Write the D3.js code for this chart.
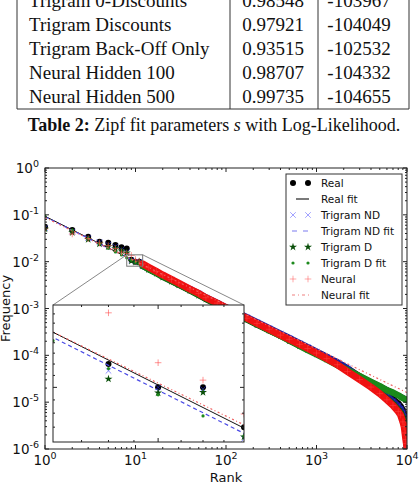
<!DOCTYPE html>
<html>
<head>
<meta charset="utf-8">
<script src="https://cdn.jsdelivr.net/npm/d3@7"></script>
<style>
  body { margin: 0; background: #fff; }
  svg { display: block; }
</style>
</head>
<body>
<svg id="chart" width="420" height="482"></svg>
<script>
// table rows (top part of the page)
const tableNames = ['Trigram 0-Discounts', 'Trigram Discounts', 'Trigram Back-Off Only', 'Neural Hidden 100', 'Neural Hidden 500'];
const tableS = ['0.98548', '0.97921', '0.93515', '0.98707', '0.99735'];
const tableLL = ['-103967', '-104049', '-102532', '-104332', '-104655'];

// ranks
const ranks = [1, 2, 3, 4, 5, 6, 7, 8, 9, 10, 11, 12, 14, 17, 20, 25, 30, 40, 50, 60, 80, 100, 130, 170, 220, 300, 400, 500, 650, 800,
  1000, 1300, 1700, 2200, 3000, 4000, 5000, 6000, 7000, 8000, 8500, 9000, 9300, 9500, 9700, 9850, 9950, 10000];

const real = [0.0557, 0.0473, 0.0341, 0.0267, 0.0254, 0.0226, 0.0202, 0.0192, 0.0110, 0.0100, 0.0100, 0.0085, 0.0071, 0.0059, 0.0050, 0.0040, 0.0033, 0.0025, 0.0020, 0.00165,
  0.00125, 0.00100, 0.00078, 0.00060, 0.00047, 0.00035, 0.00027, 0.00022, 0.00017, 0.000142, 0.000115, 0.000089, 0.000069, 0.000051, 0.000035, 0.000025, 0.0000185, 0.0000145,
  0.0000115, 0.0000092, 0.0000080, 0.0000066, 0.0000055, 0.0000046, 0.0000034, 0.0000024, 0.0000018, 0.0000015];

const trigramND = [0.052, 0.044, 0.032, 0.026, 0.023, 0.021, 0.018, 0.016, 0.0107, 0.0100, 0.00993, 0.0081, 0.0072, 0.0060, 0.0051, 0.0041, 0.0034, 0.0026, 0.0021, 0.00172,
  0.00131, 0.00106, 0.00083, 0.00065, 0.00051, 0.00038, 0.00029, 0.000235, 0.000182, 0.000150, 0.000120, 0.000093, 0.000071, 0.000053, 0.000034, 0.000024, 0.0000175, 0.0000135,
  0.0000105, 0.0000083, 0.0000072, 0.0000058, 0.0000048, 0.0000039, 0.0000029, 0.0000020, 0.0000013, 0.0000010];

const trigramD = [0.050, 0.042, 0.030, 0.024, 0.021, 0.019, 0.017, 0.0155, 0.01035, 0.00978, 0.0098, 0.00817, 0.0068, 0.0056, 0.0047, 0.0038, 0.0032, 0.0024, 0.0019, 0.00158,
  0.0012, 0.00097, 0.00075, 0.00058, 0.00045, 0.00034, 0.00026, 0.000205, 0.00016, 0.000132, 0.000106, 0.000083, 0.000063, 0.000047, 0.000032, 0.000022, 0.0000160, 0.0000120,
  0.0000092, 0.0000070, 0.0000060, 0.0000048, 0.0000040, 0.0000032, 0.0000024, 0.0000017, 0.0000013, 0.0000011];

const trigramDFit = [0.0935, 0.0474, 0.0318, 0.0240, 0.0193, 0.0161, 0.0139, 0.0121, 0.0108, 0.0097, 0.0089, 0.0082, 0.0070, 0.0058, 0.0049, 0.0040, 0.0033, 0.0025, 0.0020, 0.00168,
  0.00126, 0.00101, 0.00078, 0.00060, 0.00047, 0.00034, 0.00026, 0.00021, 0.00016, 0.00013, 0.000105, 0.000081, 0.000062, 0.000048, 0.000036, 0.000027, 0.000022, 0.000018,
  0.000016, 0.000014, 0.000013, 0.0000122, 0.0000118, 0.0000116, 0.0000113, 0.0000112, 0.0000111, 0.000011];

const neural = [0.050, 0.039, 0.031, 0.025, 0.022, 0.019, 0.016, 0.0150, 0.01356, 0.01106, 0.0103, 0.00897, 0.0076, 0.0062, 0.0052, 0.0042, 0.0035, 0.0026, 0.0021, 0.0017,
  0.0013, 0.00104, 0.00080, 0.00062, 0.00048, 0.00036, 0.00027, 0.00022, 0.000172, 0.000140, 0.000112, 0.000085, 0.000063, 0.000045, 0.0000305, 0.0000210, 0.0000152, 0.0000112,
  0.0000085, 0.0000063, 0.0000053, 0.0000038, 0.0000030, 0.0000022, 0.0000016, 0.0000013, 0.0000011, 0.0000010];

// fit lines, end points at rank 1 and rank 10^4
const fitRanks = [1, 10000];
const realFit = [0.0933, 0.0000128];
const trigramNDFit = [0.0914, 0.0000125];
const neuralFit = [0.0875, 0.0000160];

const xTickExp = [0, 1, 2, 3, 4];
const yTickExp = [0, -1, -2, -3, -4, -5, -6];
const legendLabels = ['Real', 'Real fit', 'Trigram ND', 'Trigram ND fit', 'Trigram D', 'Trigram D fit', 'Neural', 'Neural fit'];

const svg = d3.select('#chart');
const serif = '"Liberation Serif", "Times New Roman", serif';
const sans = '"DejaVu Sans", sans-serif';

// ---- table fragment + caption
const tab = svg.append('g').attr('font-family', serif).attr('font-size', 19).attr('fill', '#111');
tableNames.forEach((name, i) => {
  const by = 7 + i * 24;
  tab.append('text').attr('x', 29).attr('y', by).text(name);
  tab.append('text').attr('x', 273).attr('y', by).attr('text-anchor', 'middle').text(tableS[i]);
  tab.append('text').attr('x', 359).attr('y', by).attr('text-anchor', 'middle').text(tableLL[i]);
});
[17, 230, 318, 409].forEach(vx => {
  tab.append('line').attr('x1', vx).attr('x2', vx).attr('y1', 0).attr('y2', 109).attr('stroke', '#333').attr('stroke-width', 1);
});
tab.append('line').attr('x1', 17).attr('x2', 409).attr('y1', 109).attr('y2', 109).attr('stroke', '#333');
const cap = tab.append('text').attr('x', 214).attr('y', 131).attr('text-anchor', 'middle').attr('font-size', 18);
cap.append('tspan').attr('font-weight', 'bold').text('Table 2:');
cap.append('tspan').text(' Zipf fit parameters ');
cap.append('tspan').attr('font-style', 'italic').text('s');
cap.append('tspan').text(' with Log-Likelihood.');

// ---- scales
const x = d3.scaleLog().domain([1, 1e4]).range([45, 407]);
const y = d3.scaleLog().domain([1e-6, 1]).range([449, 168]);
const ix = d3.scaleLog().domain([8, 12]).range([53, 244]);
const iy = d3.scaleLog().domain([0.008, 0.014]).range([442, 305]);

const defs = svg.append('defs');
defs.append('clipPath').attr('id', 'mainClip').append('rect')
  .attr('x', 45).attr('y', 168).attr('width', 362).attr('height', 281);
defs.append('clipPath').attr('id', 'insetClip').append('rect')
  .attr('x', 53).attr('y', 305).attr('width', 191).attr('height', 137);

const pts = vals => ranks.map((r, i) => ({ r, v: vals[i] }));
const fitPts = vals => fitRanks.map((r, i) => ({ r, v: vals[i] }));

function marker(sel, kind, color, op) {
  if (kind === 'o') {
    sel.append('circle').attr('r', 3).attr('fill', color);
  } else if (kind === 'x') {
    sel.append('path').attr('d', 'M-2.8,-2.8L2.8,2.8M-2.8,2.8L2.8,-2.8').attr('stroke', color).attr('stroke-opacity', op).attr('fill', 'none');
  } else if (kind === '*') {
    sel.append('path').attr('d', d3.symbol(d3.symbolStar, 20)()).attr('fill', color);
  } else if (kind === '.') {
    sel.append('circle').attr('r', 1.6).attr('fill', color);
  } else if (kind === '+') {
    sel.append('path').attr('d', 'M-3.3,0H3.3M0,-3.3V3.3').attr('stroke', color).attr('stroke-opacity', op).attr('fill', 'none');
  }
}

const series = [
  { vals: real, kind: 'o', color: '#000', op: 1, band: '#111', bw: 7 },
  { fit: realFit, stroke: '#111', dash: null, w: 1 },
  { vals: trigramND, kind: 'x', color: '#3333ff', op: 0.55, band: '#1c1c9a', bw: 6.5 },
  { fit: trigramNDFit, stroke: '#4a4ae6', dash: '4,3', w: 1.2 },
  { vals: trigramD, kind: '*', color: '#0a4f0a', op: 1, band: '#0f5f0f', bw: 6 },
  { vals: trigramDFit, kind: '.', color: '#1d8a1d', op: 1, band: '#1a8a1a', bw: 6.5 },
  { vals: neural, kind: '+', color: '#ff4040', op: 0.55, band: '#ee1010', bw: 7 },
  { fit: neuralFit, stroke: '#f06060', dash: '2,2.5,1,2.5', w: 1.2 }
];

function drawSeries(g, xs, ys, withBand) {
  const line = d3.line().x(d => xs(d.r)).y(d => ys(d.v));
  series.forEach(s => {
    if (s.fit) {
      g.append('path').datum(fitPts(s.fit)).attr('d', line).attr('fill', 'none')
        .attr('stroke', s.stroke).attr('stroke-width', s.w).attr('stroke-dasharray', s.dash);
      return;
    }
    const data = pts(s.vals);
    if (withBand) {
      g.append('path').datum(data.filter(d => d.r >= 12)).attr('d', line).attr('fill', 'none')
        .attr('stroke', s.band).attr('stroke-width', s.bw).attr('stroke-linejoin', 'round').attr('stroke-linecap', 'round');
    }
    g.selectAll(null).data(data).join('g')
      .attr('transform', d => `translate(${xs(d.r)},${ys(d.v)})`)
      .each(function () { marker(d3.select(this), s.kind, s.color, s.op); });
  });
}

// ---- main plot
const main = svg.append('g').attr('clip-path', 'url(#mainClip)');
drawSeries(main, x, y, true);

// zoom box + connectors
const zx0 = x(ix.domain()[0]), zx1 = x(ix.domain()[1]);
const zy0 = y(iy.domain()[1]), zy1 = y(iy.domain()[0]);
svg.append('rect').attr('x', zx0).attr('y', zy0).attr('width', zx1 - zx0).attr('height', zy1 - zy0)
  .attr('fill', 'none').attr('stroke', '#777').attr('stroke-width', 1);
svg.append('line').attr('x1', zx0).attr('y1', zy0).attr('x2', ix.range()[0]).attr('y2', iy.range()[1]).attr('stroke', '#888');
svg.append('line').attr('x1', zx1).attr('y1', zy0).attr('x2', ix.range()[1]).attr('y2', iy.range()[1]).attr('stroke', '#888');

function drawTicks(g, xs, ys, xVals, yVals, isMajorX, isMajorY) {
  const [x0, x1] = xs.range(), [y0, y1] = ys.range();
  xVals.forEach(t => {
    const len = isMajorX(t) ? 4 : 2, px = xs(t);
    g.append('line').attr('x1', px).attr('x2', px).attr('y1', y0).attr('y2', y0 - len);
    g.append('line').attr('x1', px).attr('x2', px).attr('y1', y1).attr('y2', y1 + len);
  });
  yVals.forEach(t => {
    const len = isMajorY(t) ? 4 : 2, py = ys(t);
    g.append('line').attr('x1', x0).attr('x2', x0 + len).attr('y1', py).attr('y2', py);
    g.append('line').attr('x1', x1).attr('x2', x1 - len).attr('y1', py).attr('y2', py);
  });
  g.append('rect').attr('x', x0).attr('y', y1).attr('width', x1 - x0).attr('height', y0 - y1).attr('fill', 'none');
}
const isDecade = t => Math.abs(Math.log10(t) - Math.round(Math.log10(t))) < 1e-9;

// ---- inset
svg.append('rect').attr('x', 53).attr('y', 305).attr('width', 191).attr('height', 137).attr('fill', '#fff');
const inset = svg.append('g').attr('clip-path', 'url(#insetClip)');
drawSeries(inset, ix, iy, false);
const inTicks = svg.append('g').attr('stroke', '#222').attr('stroke-width', 1);
drawTicks(inTicks, ix, iy, ix.ticks().filter(t => t > 8 && t < 12), iy.ticks().filter(t => t > 0.008 && t < 0.014), isDecade, isDecade);

// ---- legend
const leg = svg.append('g');
leg.append('rect').attr('x', 286).attr('y', 174).attr('width', 116).attr('height', 131)
  .attr('fill', '#fff').attr('stroke', '#333').attr('stroke-width', 1);
const legItems = [
  { kind: 'o', color: '#000', op: 1 },
  { line: '#222', dash: null },
  { kind: 'x', color: '#3333ff', op: 0.45 },
  { line: '#7a7af0', dash: '5,6', x0: 292, x1: 309 },
  { kind: '*', color: '#0a4f0a', op: 1 },
  { kind: '.', color: '#1d8a1d', op: 1 },
  { kind: '+', color: '#ff4040', op: 0.45 },
  { line: '#f08080', dash: '3,3,1,3', x0: 292, x1: 309 }
];
legItems.forEach((it, i) => {
  const ly = 183 + i * 16;
  if (it.line) {
    leg.append('line').attr('x1', it.x0 || 296).attr('x2', it.x1 || 309).attr('y1', ly).attr('y2', ly)
      .attr('stroke', it.line).attr('stroke-width', 1.2).attr('stroke-dasharray', it.dash);
  } else {
    [293, 308].forEach(mx => {
      marker(leg.append('g').attr('transform', `translate(${mx},${ly})`), it.kind, it.color, it.op);
    });
  }
  leg.append('text').attr('x', 321).attr('y', ly + 4).attr('font-family', sans).attr('font-size', 10.5)
    .attr('fill', '#111').text(legendLabels[i]);
});

// ---- main axes
const ax = svg.append('g').attr('stroke', '#222').attr('stroke-width', 1);
drawTicks(ax, x, y, x.ticks(), y.ticks(), isDecade, isDecade);

const lab = svg.append('g').attr('font-family', sans).attr('fill', '#111');
xTickExp.forEach(e => {
  const t = lab.append('text').attr('x', x(Math.pow(10, e))).attr('y', 465).attr('text-anchor', 'middle').attr('font-size', 13.5);
  t.append('tspan').text('10');
  t.append('tspan').attr('dy', -6).attr('font-size', 9.5).text(String(e));
});
yTickExp.forEach(e => {
  const t = lab.append('text').attr('x', 39).attr('y', y(Math.pow(10, e)) + 5).attr('text-anchor', 'end').attr('font-size', 13.5);
  t.append('tspan').text('10');
  t.append('tspan').attr('dy', -6).attr('font-size', 9.5).text(String(e));
});
lab.append('text').attr('x', 226).attr('y', 482).attr('text-anchor', 'middle').attr('font-size', 13).text('Rank');
lab.append('text').attr('transform', 'translate(10,308.5) rotate(-90)').attr('text-anchor', 'middle')
  .attr('font-size', 13).text('Frequency');
</script>
</body>
</html>
